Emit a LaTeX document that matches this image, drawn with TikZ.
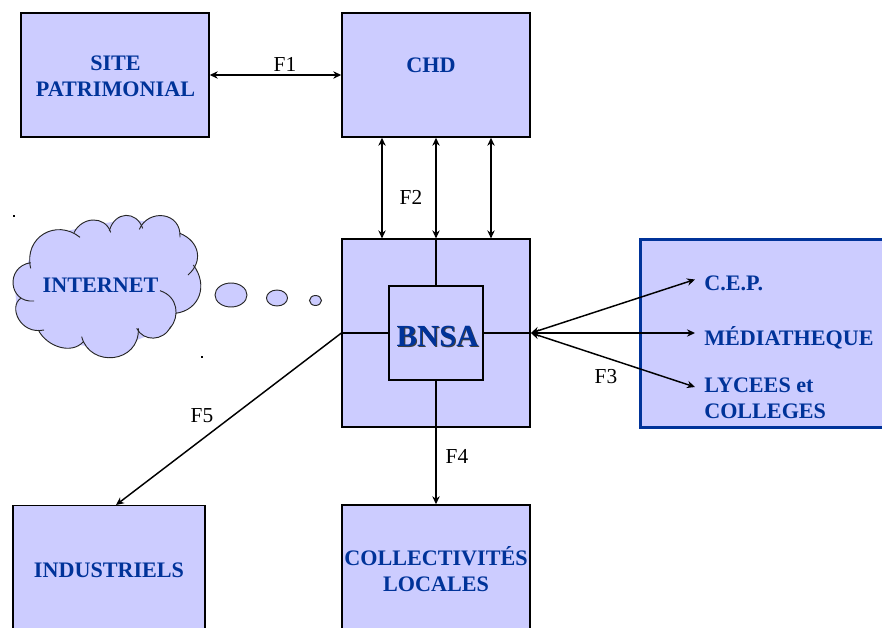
\documentclass[tikz,border=0pt]{standalone}
\usepackage{fontspec}
\setmainfont{Liberation Serif}
\usetikzlibrary{arrows.meta,calc}
\definecolor{lav}{HTML}{CCCCFF}
\definecolor{navy}{HTML}{003399}
\tikzset{
  box/.style={draw=black,fill=lav,line width=1.1pt,minimum width=141pt,minimum height=93pt,inner sep=0pt,
     text=navy,align=center,font=\fontsize{16.6}{19.5}\selectfont\bfseries},
  lbl/.style={text=navy,inner sep=0pt,align=center,font=\fontsize{16.6}{19.5}\selectfont\bfseries},
  flow/.style={inner sep=0pt,font=\fontsize{16}{19.5}\selectfont},
  conn/.style={draw=black,line width=1.1pt},
  thinl/.style={draw=black,line width=0.85pt},
  both/.style={conn,{Stealth[length=6pt,width=5.5pt]}-{Stealth[length=6pt,width=5.5pt]}},
  one/.style={conn,-{Stealth[length=6pt,width=5.5pt]}},
  lobe/.style={draw=black!85,line width=0.7pt,fill=none},
  bub/.style={draw=black!85,line width=0.7pt,fill=lav}
}
\begin{document}
\begin{tikzpicture}[x=0.75pt,y=-0.75pt]
\useasboundingbox (0,0) rectangle (882,628);
\clip (0,0) rectangle (882,628);
% boxes
\node[box] (site) at (115,75) {};
\node[lbl] (sitet) at (115.5,76) {SITE\\PATRIMONIAL};
\node[box] (chd) at (436,75) {};
\node[lbl] (chdt) at (431,65.5) {CHD};
\node[box,line width=0.85pt,minimum height=141pt] (bnsa) at (436,333) {};
\node[draw=black,fill=lav,line width=0.85pt,minimum width=70.5pt,minimum height=70.5pt,inner sep=0pt] (core) at (436,333) {};
\node[box,draw=navy,line width=2.25pt,minimum width=195pt,minimum height=141pt] (media) at (770,333) {};
\node[box,minimum width=144pt,minimum height=97.5pt] (indus) at (109,570.5) {INDUSTRIELS};
\node[box,minimum height=96pt] (coll) at (436,569) {COLLECTIVITÉS\\LOCALES};
% BNSA text with its shadow
\node[inner sep=0pt,text=black!75,font=\fontsize{23}{25}\selectfont\bfseries] (bnsas) at (438.6,337.8) {BNSA};
\node[inner sep=0pt,text=navy,font=\fontsize{23}{25}\selectfont\bfseries] (bnsat) at (437.6,336.8) {BNSA};
% cross inside BNSA
\draw[thinl] (core.north) -- (bnsa.north);
\draw[thinl] (core.west) -- (bnsa.west);
\draw[thinl] (core.east) -- (bnsa.east);
% right box labels
\node[lbl,anchor=base west] (cep) at (704,290) {C.E.P.};
\node[lbl,anchor=base west] (med) at (704,345) {MÉDIATHEQUE};
\node[lbl,anchor=base west] (lyc) at (704,392.5) {LYCEES et};
\node[lbl,anchor=base west] (col) at (704,418.5) {COLLEGES};
\coordinate (cepin) at (695,279.5);
\coordinate (medin) at (695,333);
\coordinate (lycin) at (695,387);
\coordinate (hub) at (531,333);
% flows
\draw[both] (site.east) -- (chd.west);
\draw[both] ($(chd.south)+(-54,0)$) -- ($(bnsa.north)+(-54,0)$);
\draw[both] (chd.south) -- (bnsa.north);
\draw[both] ($(chd.south)+(55,0)$) -- ($(bnsa.north)+(55,0)$);
\draw[both] (hub) -- (cepin);
\draw[both] (hub) -- (medin);
\draw[both] (hub) -- (lycin);
\draw[thinl] (core.south) -- (bnsa.south);
\draw[one] (bnsa.south) -- (coll.north);
\coordinate (indin) at (116,505);
\draw[one] (bnsa.west) -- (indin);
% flow labels
\node[flow] (f1) at (285,64) {F1};
\node[flow] (f2) at (411,197) {F2};
\node[flow] (f3) at (606,377) {F3};
\node[flow] (f4) at (457,456) {F4};
\node[flow] (f5) at (202,416) {F5};
% cloud
\begin{scope}[shift={(0,200)},x=0.25pt,y=-0.25pt]
 \def\lobes{
  {(92,205)}/{(70,110)}/{(170,55)}/{(240,112)},
  {(222,98)}/{(245,50)}/{(315,45)}/{(332,97)},
  {(328,92)}/{(345,32)}/{(410,32)}/{(428,85)},
  {(418,88)}/{(445,25)}/{(545,35)}/{(540,112)},
  {(540,100)}/{(600,125)}/{(610,185)}/{(564,225)},
  {(580,195)}/{(625,255)}/{(600,330)}/{(527,340)},
  {(480,272)}/{(535,290)}/{(540,350)}/{(510,385)},
  {(512,380)}/{(490,425)}/{(430,425)}/{(410,385)},
  {(415,385)}/{(420,490)}/{(270,505)}/{(245,410)},
  {(250,425)}/{(215,465)}/{(140,440)}/{(115,390)},
  {(132,390)}/{(60,405)}/{(25,320)}/{(62,295)},
  {(102,303)}/{(25,310)}/{(15,200)}/{(92,188)}}
 \foreach \a/\b/\c/\d in \lobes { \fill[lav] \a .. controls \b and \c .. \d -- cycle; }
 \fill[lav] (60,240) -- (100,150) -- (170,100) -- (280,75) -- (375,60) -- (480,65) -- (535,95) -- (570,150) -- (585,260) -- (535,330) -- (500,395) -- (450,405) -- (330,450) -- (180,425) -- (85,365) -- (50,330) -- (45,260) -- cycle;
 \foreach \a/\b/\c/\d in \lobes { \draw[lobe] \a .. controls \b and \c .. \d; }
\end{scope}
\node[lbl] (inet) at (100.5,285) {INTERNET};
% thought bubbles
\draw[bub] (231,295) ellipse [x radius=16,y radius=12];
\draw[bub] (277,298) ellipse [x radius=10.5,y radius=8];
\draw[bub] (315.5,300.5) ellipse [x radius=6,y radius=5];
% stray marks
\fill (12.5,215) rectangle (15,216.5);
\fill (200.5,356) rectangle (203,357.5);
\end{tikzpicture}
\end{document}
